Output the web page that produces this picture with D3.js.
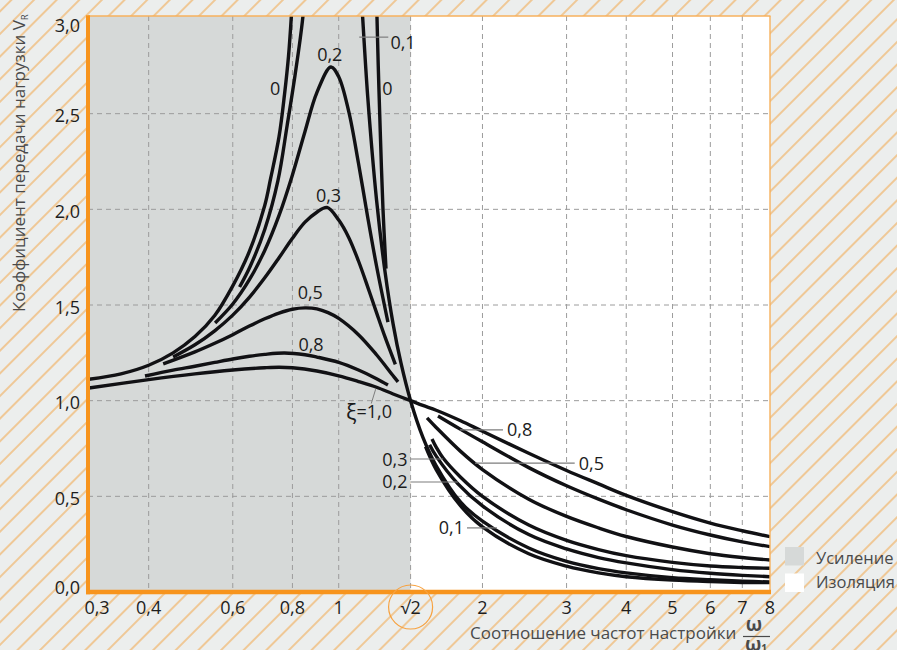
<!DOCTYPE html>
<html><head><meta charset="utf-8">
<script src="https://cdn.jsdelivr.net/npm/d3@7"></script>
<style>
body{margin:0;background:#eceeed;}
svg{display:block;}
text{font-family:"Open Sans",sans-serif;}
</style>
</head><body>
<svg id="chart" width="897" height="650"></svg>
<script>
// ---------- data ----------
const xTicks = [0.3, 0.4, 0.6, 0.8, 1, Math.SQRT2, 2, 3, 4, 5, 6, 7, 8];
const xTickLabels = ["0,3", "0,4", "0,6", "0,8", "1", "√2", "2", "3", "4", "5", "6", "7", "8"];
const xGrid = [0.4, 0.6, 0.8, 1, Math.SQRT2, 2, 3, 4, 5, 6, 7];
const yTicks = [0, 0.5, 1, 1.5, 2, 2.5, 3];
const yTickLabels = ["0,0", "0,5", "1,0", "1,5", "2,0", "2,5", "3,0"];
const yGrid = [0.5, 1, 1.5, 2, 2.5];
const regions = ["Усиление", "Изоляция"];
const regionBounds = [[0.3, Math.SQRT2], [Math.SQRT2, 8]];

// damping ratio ξ curves: [frequency ratio, transmissibility]
const z0Left = [[0.3,1.112],[0.35,1.14],[0.4,1.185],[0.45,1.25],[0.5,1.335],[0.55,1.445],[0.6,1.6],[0.65,1.78],[0.7,2.02],[0.72,2.16],[0.75,2.38],[0.77,2.6],[0.785,2.8],[0.80,3.1]];
const z0RightTop = [[1.200,3.1],[1.210,2.75],[1.222,2.4],[1.238,2.0],[1.256,1.69]];
const z0Right = [[1.52,0.76],[1.6,0.64],[1.8,0.45],[2,0.34],[2.5,0.2],[3,0.135],[3.5,0.1],[4,0.08],[5,0.062],[6,0.054],[7,0.05],[8,0.049]];
const z01Left = [[0.62,1.594],[0.652,1.70],[0.7,1.895],[0.746,2.15],[0.78,2.44],[0.81,2.7],[0.84,2.99],[0.86,3.3]];
const z01Right = [[1.10,3.3],[1.11,3.19],[1.15,2.59],[1.2,2.05],[1.25,1.675],[1.3,1.40],[1.35,1.197],[1.414,1.0],[1.5,0.81],[1.6,0.66],[1.8,0.47],[2,0.37],[2.5,0.23],[3,0.16],[3.5,0.122],[4,0.1],[5,0.075],[6,0.064],[7,0.057],[8,0.052]];
const z02Left = [[0.551,1.406],[0.6,1.505],[0.65,1.632],[0.7,1.785],[0.75,1.968],[0.8,2.18],[0.85,2.407],[0.9,2.61],[0.963,2.744],[1.0,2.693],[1.05,2.509],[1.1,2.241],[1.15,1.959],[1.2,1.704],[1.268,1.41]];
const z02Right = [[1.55,0.77],[1.6,0.71],[1.777,0.565],[2,0.45],[2.5,0.3],[3,0.225],[3.5,0.18],[4,0.152],[5,0.117],[6,0.098],[7,0.087],[8,0.08]];
const z03Left = [[0.45,1.228],[0.5,1.292],[0.55,1.365],[0.6,1.447],[0.65,1.54],[0.7,1.642],[0.75,1.747],[0.8,1.849],[0.85,1.933],[0.9,1.985],[0.945,2.01],[1.0,1.944],[1.05,1.852],[1.1,1.73],[1.15,1.595],[1.2,1.46],[1.25,1.333],[1.314,1.19]];
const z03Right = [[1.568,0.80],[1.6,0.757],[1.654,0.70],[1.8,0.60],[2,0.50],[2.5,0.35],[3,0.27],[3.5,0.222],[4,0.19],[5,0.155],[6,0.136],[7,0.128],[8,0.124]];
const z05Left = [[0.429,1.192],[0.5,1.255],[0.55,1.30],[0.6,1.345],[0.65,1.39],[0.7,1.428],[0.75,1.458],[0.8,1.478],[0.85,1.485],[0.9,1.48],[0.95,1.46],[1.0,1.43],[1.1,1.345],[1.2,1.24],[1.3,1.13],[1.331,1.098]];
const z05Right = [[1.531,0.91],[1.6,0.86],[1.8,0.735],[2,0.64],[2.5,0.485],[3,0.395],[3.5,0.335],[4,0.29],[5,0.235],[6,0.2],[7,0.18],[8,0.167]];
const z08Left = [[0.393,1.129],[0.45,1.16],[0.5,1.18],[0.55,1.20],[0.6,1.218],[0.65,1.232],[0.7,1.242],[0.77,1.249],[0.85,1.24],[0.9,1.228],[1.0,1.20],[1.1,1.16],[1.2,1.115],[1.268,1.082]];
const z08Right = [[1.614,0.92],[1.8,0.85],[2,0.785],[2.5,0.65],[3,0.555],[3.5,0.485],[4,0.43],[5,0.35],[6,0.298],[7,0.262],[8,0.237]];
const z10 = [[0.3,1.066],[0.4,1.11],[0.5,1.14],[0.6,1.16],[0.7,1.172],[0.75,1.175],[0.8,1.172],[0.9,1.155],[1.0,1.13],[1.1,1.10],[1.2,1.07],[1.3,1.035],[1.414,1.0],[1.5,0.975],[1.6,0.95],[1.8,0.895],[2,0.84],[2.5,0.725],[3,0.635],[3.5,0.565],[4,0.505],[5,0.42],[6,0.36],[7,0.32],[8,0.289]];

const curves = [z0Left, z0RightTop, z0Right, z01Left, z01Right, z02Left, z02Right,
  z03Left, z03Right, z05Left, z05Right, z08Left, z08Right, z10];

// curve labels: [text, ratio, value]
const curveLabels = [["0",0.736,2.63],["0",1.265,2.63],["0,2",0.958,2.81],["0,1",1.283,2.87],
  ["0,3",0.952,2.07],["0,5",0.872,1.565],["0,8",0.875,1.295]];
// right-side labels with leaders: [text, leader from ratio, to ratio, value, text anchor]
const rightLabels = [["0,8",1.795,2.208,0.847,"start"],["0,5",1.93,3.12,0.674,"start"],
  ["0,3",1.414,1.654,0.695,"end"],["0,2",1.414,1.777,0.575,"end"],["0,1",1.856,2.145,0.335,"end"]];

// ---------- layout ----------
const svg = d3.select("#chart");
const W = 897, H = 650;
const L = 88, R = 770, T = 16, B = 592;
const x = d3.scaleLog().domain([0.3, 8]).range([L + 1, R]);
const y = d3.scaleLinear().domain([0, 3]).range([B, 18]);

const defs = svg.append("defs");
const pat = defs.append("pattern").attr("id", "hatch").attr("patternUnits", "userSpaceOnUse")
  .attr("width", 16).attr("height", 16).attr("patternTransform", "rotate(45)");
pat.append("rect").attr("width", 16).attr("height", 16).attr("fill", "#eceeed");
pat.append("line").attr("x1", 8).attr("x2", 8).attr("y1", 0).attr("y2", 16)
  .attr("stroke", "#f3a94f").attr("stroke-width", 1.1);
defs.append("clipPath").attr("id", "plotclip").append("rect")
  .attr("x", L).attr("y", T).attr("width", R - L).attr("height", B - T);

svg.append("rect").attr("width", W).attr("height", H).attr("fill", "url(#hatch)");

// regions
const regionFill = ["#d6d9d8", "#ffffff"];
svg.selectAll("rect.region").data(regionBounds).join("rect").attr("class", "region")
  .attr("x", d => x(d[0])).attr("y", T)
  .attr("width", d => x(d[1]) - x(d[0])).attr("height", B - T)
  .attr("fill", (d, i) => regionFill[i]);

// grid
const gGrid = svg.append("g").attr("stroke", "#9c9c9c").attr("stroke-width", 1)
  .attr("stroke-dasharray", "5,4");
gGrid.selectAll("line.v").data(xGrid).join("line")
  .attr("x1", d => x(d)).attr("x2", d => x(d)).attr("y1", T).attr("y2", B);
gGrid.selectAll("line.h").data(yGrid).join("line")
  .attr("x1", L).attr("x2", R).attr("y1", d => y(d)).attr("y2", d => y(d));

// curves
const line = d3.line().x(d => x(d[0])).y(d => y(d[1])).curve(d3.curveCatmullRom.alpha(0.5));
svg.append("g").attr("clip-path", "url(#plotclip)")
  .selectAll("path").data(curves).join("path")
  .attr("d", line).attr("fill", "none").attr("stroke", "#111114")
  .attr("stroke-width", 3.4).attr("stroke-linecap", "butt");

// frame
svg.append("line").attr("x1", L).attr("x2", R + 0.5).attr("y1", T).attr("y2", T)
  .attr("stroke", "#f7b15c").attr("stroke-width", 1.4);
svg.append("line").attr("x1", R).attr("x2", R).attr("y1", T).attr("y2", B)
  .attr("stroke", "#f7b15c").attr("stroke-width", 1.4);
svg.append("line").attr("x1", L).attr("x2", L).attr("y1", T - 0.7).attr("y2", B + 2.2)
  .attr("stroke", "#f7941d").attr("stroke-width", 4);
svg.append("line").attr("x1", L - 2).attr("x2", R + 1).attr("y1", B).attr("y2", B)
  .attr("stroke", "#f7941d").attr("stroke-width", 4.4);

// labels on curves
const gLab = svg.append("g").attr("font-size", 18).attr("fill", "#1c1c1c");
gLab.selectAll("text").data(curveLabels).join("text")
  .attr("x", d => x(d[1])).attr("y", d => y(d[2]) + 6.5)
  .attr("text-anchor", (d, i) => i === 3 ? "start" : "middle")
  .text(d => d[0]);
// 0,1 leader
svg.append("line").attr("x1", x(1.104)).attr("x2", x(1.27)).attr("y1", y(2.9)).attr("y2", y(2.9))
  .attr("stroke", "#7d7d7d").attr("stroke-width", 1.2);
// ξ=1,0 label
const xi = gLab.append("text").attr("x", 346).attr("y", 418);
xi.append("tspan").attr("font-size", 22).attr("dy", 2).text("ξ");
xi.append("tspan").attr("dy", -2).text("=1,0");
svg.append("line").attr("x1", x(1.17)).attr("x2", x(1.195)).attr("y1", y(0.985)).attr("y2", y(1.06))
  .attr("stroke", "#7d7d7d").attr("stroke-width", 1);

// right labels with leaders
const gR = svg.append("g");
gR.selectAll("line").data(rightLabels).join("line")
  .attr("x1", d => x(d[1])).attr("x2", d => x(d[2]))
  .attr("y1", d => y(d[3])).attr("y2", d => y(d[3]))
  .attr("stroke", "#7d7d7d").attr("stroke-width", 1.2);
gR.selectAll("text").data(rightLabels).join("text")
  .attr("x", d => d[4] === "start" ? x(d[2]) + 4 : x(d[1]) - 3)
  .attr("y", d => y(d[3]) + 6.5).attr("text-anchor", d => d[4])
  .attr("font-size", 18).attr("fill", "#1c1c1c").text(d => d[0]);

// x axis labels
const gx = svg.append("g").attr("font-size", 18).attr("fill", "#1e1e1e");
gx.selectAll("text").data(xTicks).join("text")
  .attr("x", (d, i) => i === 0 ? x(d) + 8 : x(d))
  .attr("y", 614).attr("text-anchor", "middle")
  .text((d, i) => xTickLabels[i]);
svg.append("circle").attr("cx", x(Math.SQRT2)).attr("cy", 607).attr("r", 22)
  .attr("fill", "none").attr("stroke", "#f7a240").attr("stroke-width", 1.2);

// y axis labels
const gy = svg.append("g").attr("font-size", 18).attr("fill", "#1e1e1e");
gy.selectAll("text").data(yTicks).join("text")
  .attr("x", 80).attr("text-anchor", "end")
  .attr("y", d => Math.min(594, Math.max(32, y(d) + 8.7)))
  .text((d, i) => yTickLabels[i]);

// axis titles
const yt = svg.append("text").attr("transform", "translate(25,312) rotate(-90)")
  .attr("font-size", 17).attr("fill", "#4a4a4a");
yt.append("tspan").text("Коэффициент передачи нагрузки V");
yt.append("tspan").attr("font-size", 9).attr("dy", 3).text("R");

svg.append("text").attr("x", 470).attr("y", 639).attr("font-size", 17).attr("fill", "#4a4a4a")
  .text("Соотношение частот настройки");
svg.append("text").attr("x", 754).attr("y", 631).attr("text-anchor", "middle")
  .attr("font-size", 19).attr("font-weight", "bold").attr("fill", "#4a4a4a").text("ω");
svg.append("line").attr("x1", 743).attr("x2", 770).attr("y1", 636.5).attr("y2", 636.5)
  .attr("stroke", "#4a4a4a").attr("stroke-width", 1.2);
const w1 = svg.append("text").attr("x", 756).attr("y", 651).attr("text-anchor", "middle")
  .attr("font-size", 19).attr("font-weight", "bold").attr("fill", "#4a4a4a");
w1.append("tspan").text("ω");
w1.append("tspan").attr("font-size", 10).attr("dy", 1).text("1");

// legend
const gl = svg.append("g").attr("transform", "translate(785,547)");
gl.selectAll("rect").data(regions).join("rect")
  .attr("x", 0).attr("y", (d, i) => i * 26.5).attr("width", 19).attr("height", 18.5)
  .attr("fill", (d, i) => regionFill[i]);
gl.selectAll("text").data(regions).join("text")
  .attr("x", 31).attr("y", (d, i) => 17 + i * 23.5)
  .attr("font-size", 16.5).attr("fill", "#4a4a4a").text(d => d);
</script>
</body></html>
